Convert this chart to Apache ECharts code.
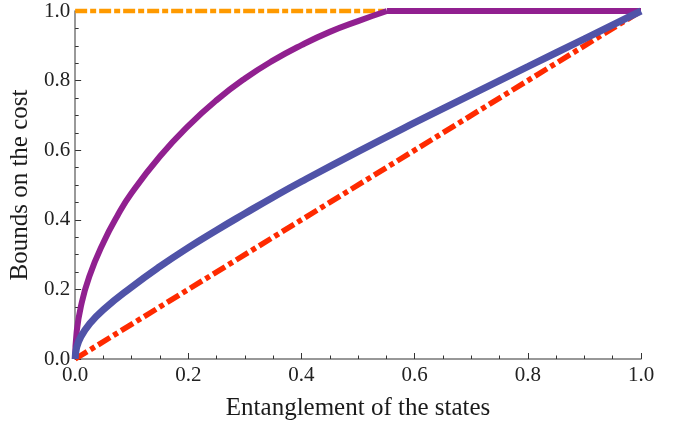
<!DOCTYPE html>
<html>
<head>
<meta charset="utf-8">
<script src="https://cdn.jsdelivr.net/npm/echarts@6/dist/echarts.min.js"></script>
<style>
  html, body { margin: 0; padding: 0; background: #fff; }
  #chart { width: 674px; height: 426px; }
</style>
</head>
<body>
<div id="chart"></div>
<script>
  // upper bound (flat at 1)
  var orangeX = [0, 1];
  var orangeY = [1, 1];
  // purple bound: rising part, then flat at 1 from x ~ 0.55
  var purpleX = [0, 0.0025, 0.01, 0.025, 0.05, 0.075, 0.1, 0.15, 0.2, 0.25, 0.3, 0.35, 0.4, 0.45, 0.5, 0.551];
  var purpleY = [0, 0.075, 0.15, 0.237, 0.335, 0.4125, 0.4775, 0.5825, 0.67, 0.744, 0.806, 0.858, 0.902, 0.94, 0.971, 1];
  var purpleFlatX = [0.551, 1];
  var purpleFlatY = [1, 1];
  // blue bound
  var blueX = [0, 0.0025, 0.01, 0.025, 0.05, 0.1, 0.15, 0.2, 0.25, 0.3, 0.35, 0.4, 0.5, 0.6, 0.7, 0.8, 0.9, 1];
  var blueY = [0, 0.032, 0.064, 0.1, 0.142, 0.207, 0.266, 0.32, 0.37, 0.418, 0.465, 0.51, 0.596, 0.679, 0.76, 0.84, 0.92, 1];
  // lower bound (diagonal)
  var redX = [0, 1];
  var redY = [0, 1];

  var xTicks = ['0.0', '0.2', '0.4', '0.6', '0.8', '1.0'];

  function pairs(xs, ys) {
    return xs.map(function (x, i) { return [x, ys[i]]; });
  }

  var chart = echarts.init(document.getElementById('chart'));
  var axisCommon = {
    type: 'value',
    min: 0,
    max: 1,
    interval: 0.2,
    splitLine: { show: false },
    axisLine: { lineStyle: { color: '#777', width: 1.5 } },
    axisTick: { inside: true, length: 6, lineStyle: { color: '#333', width: 1 } },
    minorTick: { show: true, splitNumber: 4, length: 3.5, lineStyle: { color: '#333', width: 1 } },
    axisLabel: {
      color: '#222',
      fontFamily: 'Liberation Serif',
      fontSize: 21,
      formatter: function (v) { return xTicks[Math.round(v * 5)]; }
    },
    nameLocation: 'middle',
    nameTextStyle: { color: '#1a1a1a', fontFamily: 'Liberation Serif', fontSize: 25 }
  };

  var purpleStyle = { color: '#912090', width: 6, cap: 'butt' };

  chart.setOption({
    animation: false,
    backgroundColor: '#fff',
    grid: { left: 75, right: 33, top: 11, bottom: 67 },
    xAxis: Object.assign({}, axisCommon, {
      name: 'Entanglement of the states',
      nameGap: 37,
      axisLabel: Object.assign({}, axisCommon.axisLabel, { margin: 6 })
    }),
    yAxis: Object.assign({}, axisCommon, {
      name: 'Bounds on the cost',
      nameGap: 38,
      axisLabel: Object.assign({}, axisCommon.axisLabel, { margin: 5 })
    }),
    series: [
      {
        type: 'line', data: pairs(orangeX, orangeY), symbol: 'none', clip: false, z: 1,
        lineStyle: { color: '#FF9A00', width: 4.5, type: [12, 3, 6, 3] }
      },
      {
        type: 'line', data: pairs(redX, redY), symbol: 'none', clip: false, z: 2,
        lineStyle: { color: '#FF2A00', width: 5.5, type: [14, 4, 5, 4] }
      },
      {
        type: 'line', data: pairs(purpleX, purpleY), symbol: 'none', clip: false, z: 3,
        smooth: 0.5,
        lineStyle: purpleStyle
      },
      {
        type: 'line', data: pairs(purpleFlatX, purpleFlatY), symbol: 'none', clip: false, z: 3,
        lineStyle: purpleStyle
      },
      {
        type: 'line', data: pairs(blueX, blueY), symbol: 'none', clip: false, z: 4,
        smooth: 0.5,
        lineStyle: { color: '#5053A8', width: 7 }
      }
    ]
  });
</script>
</body>
</html>
